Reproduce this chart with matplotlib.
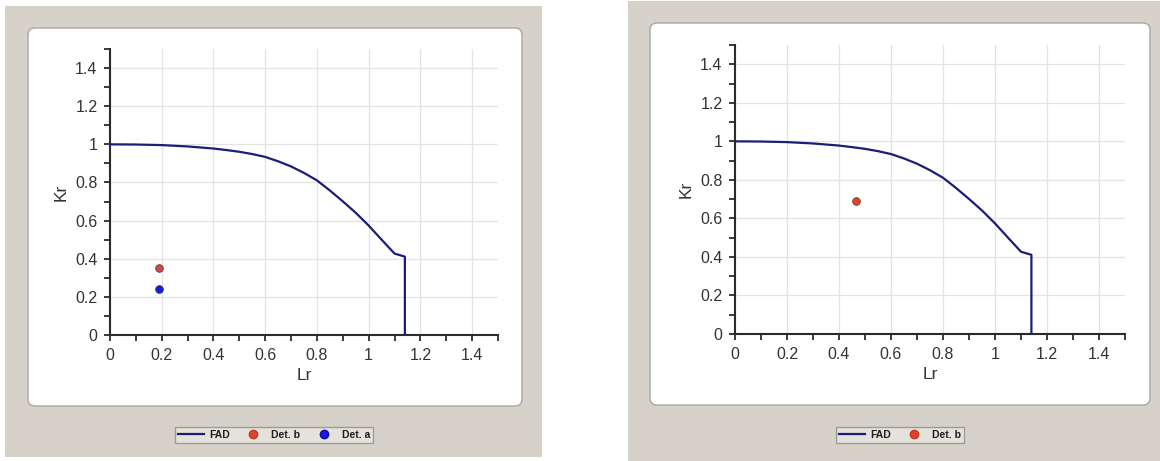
import matplotlib
matplotlib.use("Agg")
import matplotlib.pyplot as plt
from matplotlib.patches import FancyBboxPatch, Rectangle
from matplotlib.lines import Line2D
from matplotlib.transforms import Affine2D

plt.rcParams["font.family"] = ["Liberation Sans", "DejaVu Sans"]

# Failure assessment diagram (shared by both panels)
lr_fad = [0.0, 0.1, 0.2, 0.3, 0.4, 0.45, 0.5, 0.55, 0.6, 0.65, 0.7, 0.75, 0.8,
          0.85, 0.9, 0.95, 1.0, 1.05, 1.10, 1.14, 1.14]
kr_fad = [1.0, 0.999, 0.996, 0.989, 0.978, 0.970, 0.961, 0.949, 0.934, 0.911,
          0.884, 0.850, 0.811, 0.758, 0.701, 0.641, 0.574, 0.500, 0.427, 0.411,
          0.0]

# Assessment points
left_det_b = ([0.19], [0.35])
left_det_a = ([0.19], [0.24])
right_det_b = ([0.465], [0.69])

tick_vals = [0, 0.2, 0.4, 0.6, 0.8, 1.0, 1.2, 1.4]
tick_labels = ["0", "0.2", "0.4", "0.6", "0.8", "1", "1.2", "1.4"]
minor_vals = [round(0.1 * i, 1) for i in range(16)]

W, H = 1160, 461
fig = plt.figure(figsize=(W / 100, H / 100), dpi=100)
fig.patch.set_facecolor("white")
px = Affine2D().scale(0.01) + fig.dpi_scale_trans

PANEL = "#d6d2ca"


def box(x0, y0, x1, y1):
    """Rectangle given in pixel coordinates measured from the top-left."""
    return (x0, H - y1), x1 - x0, y1 - y0


def panel(grey, white):
    xy, w, h = box(*grey)
    fig.patches.append(Rectangle(xy, w, h, transform=px, facecolor=PANEL,
                                 edgecolor="none", zorder=-3))
    xy, w, h = box(*white)
    fig.patches.append(FancyBboxPatch(xy, w, h,
                                      boxstyle="round,pad=0,rounding_size=7",
                                      transform=px, facecolor="white",
                                      edgecolor="#a9a7a2", linewidth=1.0,
                                      zorder=-2))


def make_axes(x0, y_top, x1, y0):
    ax = fig.add_axes([x0 / W, (H - y0) / H, (x1 - x0) / W, (y0 - y_top) / H])
    ax.set_facecolor("none")
    ax.set_xlim(0, 1.5)
    ax.set_ylim(0, 1.5)
    for s in ("top", "right"):
        ax.spines[s].set_visible(False)
    for s in ("left", "bottom"):
        ax.spines[s].set_color("#2b2b2b")
        ax.spines[s].set_linewidth(1.5)
    ax.set_xticks(tick_vals)
    ax.set_xticklabels(tick_labels)
    ax.set_yticks(tick_vals)
    ax.set_yticklabels(tick_labels)
    ax.set_xticks(minor_vals, minor=True)
    ax.set_yticks(minor_vals, minor=True)
    ax.tick_params(which="both", direction="out", length=4, width=1.3,
                   color="#2b2b2b", labelsize=11.5, labelcolor="#333333")
    ax.tick_params(axis="x", which="major", pad=5)
    ax.tick_params(axis="y", which="major", pad=5)
    ax.grid(True, which="major", color="#e3e3e3", linewidth=0.9)
    ax.set_axisbelow(True)
    ax.set_xlabel("Lr", fontsize=12.5, color="#333333", labelpad=4)
    ax.set_ylabel("Kr", fontsize=12.5, color="#333333", labelpad=5)
    return ax


FAD_COLOR = "#1c1c7a"
RED = "#e0452a"
BLUE = "#1a1ae0"

# Left panel
panel((5, 6, 542, 457), (28, 28, 522, 406))
axl = make_axes(110, 49, 498, 335)
axl.plot(lr_fad, kr_fad, color=FAD_COLOR, lw=1.6, zorder=3)
axl.plot(*left_det_b, "o", color="#cc4a48", mec="#6a3a3a", mew=0.6, ms=5.5, zorder=4)
axl.plot(*left_det_a, "o", color=BLUE, mec="#2a2a6a", mew=0.6, ms=5.5, zorder=4)

# Right panel
panel((628, 1, 1160, 461), (650, 23, 1150, 405))
axr = make_axes(735, 45, 1125, 334)
axr.plot(lr_fad, kr_fad, color=FAD_COLOR, lw=1.6, zorder=3)
axr.plot(*right_det_b, "o", color=RED, mec="#6a3a3a", mew=0.6, ms=5.5, zorder=4)

# Legends
h_fad = Line2D([], [], color=FAD_COLOR, lw=1.6)
h_b = Line2D([], [], ls="none", marker="o", color=RED, mec="#c03a20", ms=6)
h_a = Line2D([], [], ls="none", marker="o", color=BLUE, mec="#1010a0", ms=6)


def legend(handles, labels, cx, cy):
    lg = fig.legend(handles, labels, loc="center",
                    bbox_to_anchor=(cx / W, (H - cy) / H), ncol=len(handles),
                    frameon=True, fancybox=False, handlelength=2.5,
                    handletextpad=0.5, columnspacing=1.0, borderpad=0.25,
                    borderaxespad=0, prop={"weight": "bold", "size": 7.5})
    fr = lg.get_frame()
    fr.set_facecolor("#e9e6e1")
    fr.set_edgecolor("#8e8c88")
    fr.set_linewidth(1.0)
    for t in lg.get_texts():
        t.set_color("#1e1e1e")
    return lg


legend([h_fad, h_b, h_a], ["FAD", "Det. b", "Det. a"], 274, 435)
legend([h_fad, h_b], ["FAD", "Det. b"], 900, 435)

fig.savefig("out.png", dpi=100)
